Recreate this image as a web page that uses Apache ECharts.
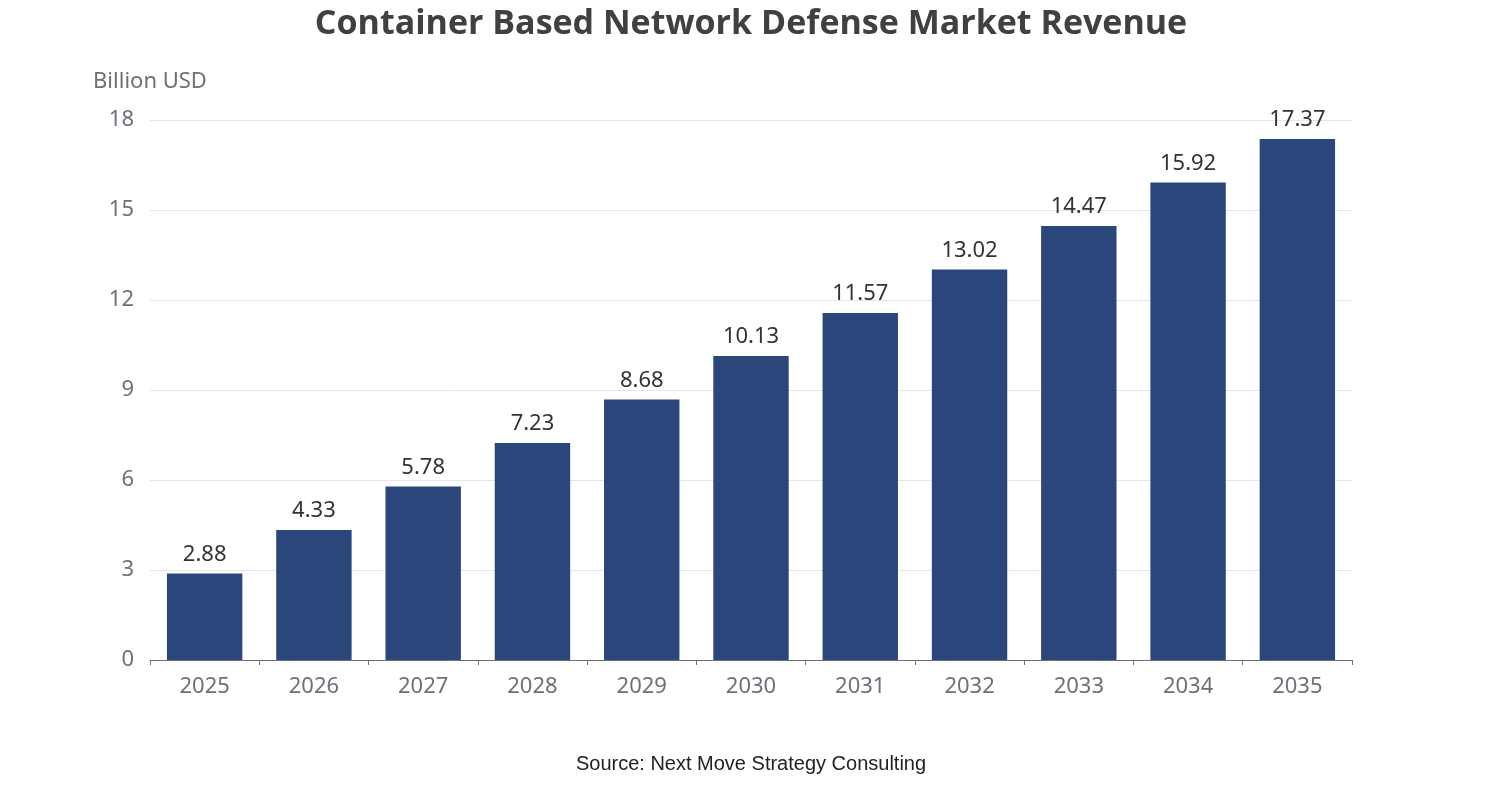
<!DOCTYPE html>
<html><head><meta charset="utf-8">
<script src="https://cdn.jsdelivr.net/npm/echarts@6/dist/echarts.min.js"></script>
<style>html,body{margin:0;padding:0;background:#fff}#c{width:1502px;height:800px}</style>
</head><body><div id="c"></div>
<script>
const years = ["2025","2026","2027","2028","2029","2030","2031","2032","2033","2034","2035"];
const revenue = [2.88,4.33,5.78,7.23,8.68,10.13,11.57,13.02,14.47,15.92,17.37];
const chart = echarts.init(document.getElementById('c'));
chart.setOption({
  animation:false,
  title:{text:"Container Based Network Defense Market Revenue",left:'center',top:2,
    textStyle:{fontFamily:'Open Sans',fontWeight:'bold',fontSize:34,color:'#404040'}},
  grid:{left:150,right:150,top:120,bottom:140},
  xAxis:{type:'category',data:years,
    axisLine:{lineStyle:{color:'#6e7079'}},axisTick:{show:true,lineStyle:{color:'#6e7079'}},
    axisLabel:{fontSize:22,color:'#6e7079',margin:16,fontFamily:'Noto Sans'}},
  yAxis:{type:'value',min:0,max:18,interval:3,name:'Billion USD',
    nameTextStyle:{fontSize:22,color:'#6e7079',align:'center',padding:[0,0,12,0],fontFamily:'Noto Sans'},
    axisLabel:{fontSize:22,color:'#6e7079',margin:16,fontFamily:'Noto Sans'},
    splitLine:{lineStyle:{color:'#e0e6f1'}}},
  series:[{type:'bar',data:revenue,barWidth:'69%',itemStyle:{color:'#2b467b'},
    label:{show:true,position:'top',fontSize:22,color:'#333',distance:8,fontFamily:'Noto Sans'}}],
  graphic:[{type:'text',left:'center',top:754,style:{text:'Source: Next Move Strategy Consulting',
    font:'20px "Liberation Sans", Arial',fill:'#222'}}]
});
</script></body></html>
